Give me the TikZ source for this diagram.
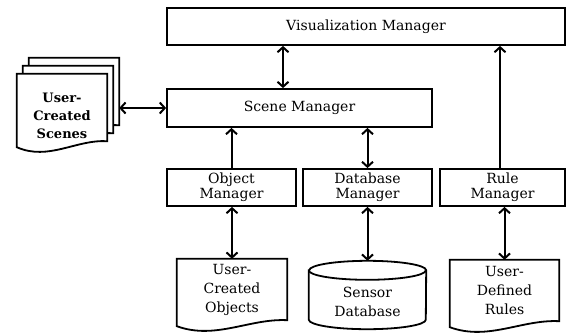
\documentclass[tikz,border=0pt]{standalone}
\usepackage{fontspec}
\setmainfont{DejaVu Serif}
\usetikzlibrary{calc}
\usetikzlibrary{arrows.meta}

% outline of a document page drawn round a node
\newcommand{\pageline}[2][]{%
	\draw[page,#1] (#2.north west) -- (#2.north east) -- (#2.south east)
		.. controls ($(#2.south west)!.66!(#2.south east)+(0,-2)$) and ($(#2.south west)!.35!(#2.south east)+(0,20)$)
		.. ([yshift=-6pt]#2.south west) -- cycle;}

\begin{document}
\begin{tikzpicture}[x=1pt, y=-1pt,
		mgr/.style = {rectangle, draw, line width=1.8pt, minimum height=37pt, align=center, inner sep=0pt, font=\fontsize{14}{15}\selectfont},
		docnode/.style = {rectangle, minimum width=110pt, minimum height=61pt, align=center, inner sep=0pt, font=\fontsize{14}{19}\selectfont},
		page/.style = {line width=1.8pt, fill=white},
		arr/.style = {-{Straight Barb[length=5pt,width=11pt]}, line width=2pt},
		darr/.style = {{Straight Barb[length=5pt,width=11pt]}-{Straight Barb[length=5pt,width=11pt]}, line width=2pt}
		]
		\useasboundingbox (0,0) rectangle (568,333);
		
		%Managers
		\node[mgr, minimum width=398pt]	(vis)	at	(366, 26.5)		{Visualization Manager};
		\node[mgr, minimum width=265pt, minimum height=38pt]	(scene)	at	(299.5, 108)	{Scene Manager};
		\node[mgr, minimum width=129pt]	(obj)	at	(231.5, 187.5)	{Object\\Manager};
		\node[mgr, minimum width=129pt]	(dbm)	at	(367.5, 187.5)	{Database\\Manager};
		\node[mgr, minimum width=125pt]	(rule)	at	(502.5, 187.5)	{Rule\\Manager};
		
		%Scene pages
		\node[docnode, minimum width=90pt, minimum height=67pt]	(scback)	at	(74, 91.5)	{};
		\node[docnode, minimum width=90pt, minimum height=67pt]	(scmid)		at	(68, 99.5)	{};
		\node[docnode, minimum width=90pt, minimum height=67pt]	(scfront)	at	(62, 107.5)	{};
		\pageline{scback}
		\pageline{scmid}
		\pageline{scfront}
		\node[align=center, font=\bfseries\fontsize{13}{18}\selectfont]	(sctext)	at	([yshift=-8pt]scfront.center)	{User-\\Created\\Scenes};
		
		%Stores
		\node[docnode]	(objdoc)	at	(232, 289.5)	{User-\\Created\\Objects};
		\pageline[fill=none]{objdoc}
		\node[docnode, minimum width=109pt]	(ruledoc)	at	(504.5, 290.5)	{User-\\Defined\\Rules};
		\pageline[fill=none]{ruledoc}
		\node[rectangle, minimum width=117pt, minimum height=68pt, inner sep=0pt]	(sensor)	at	(367.5, 295)	{};
		\draw[page] ([yshift=-9.5pt]sensor.north west) -- ([yshift=9.5pt]sensor.south west)
			arc[start angle=180, end angle=360, x radius=58.5pt, y radius=9.5pt]
			-- ([yshift=-9.5pt]sensor.north east)
			arc[start angle=0, end angle=180, x radius=58.5pt, y radius=9.5pt] -- cycle;
		\draw[page, fill=none] ([yshift=-9.5pt]sensor.north west) arc[start angle=180, end angle=360, x radius=58.5pt, y radius=9.5pt];
		\node[align=center, font=\fontsize{14}{19}\selectfont]	(sensortext)	at	([yshift=-6.5pt]sensor.center)	{Sensor\\Database};
		
		%Lines
		\draw[darr]	([xshift=-16.5pt]scene.north)	--	([xshift=-16.5pt]scene.north |- vis.south);
		\draw[arr]	(obj.north)	--	(obj.north |- scene.south);
		\draw[darr]	(dbm.north)	--	(dbm.north |- scene.south);
		\draw[arr]	([xshift=-2.5pt]rule.north)	--	([xshift=-2.5pt]rule.north |- vis.south);
		\draw[darr]	(scback.east |- scene.west)	--	(scene.west);
		\draw[darr]	(objdoc.north |- obj.south)	--	(objdoc.north);
		\draw[darr]	(dbm.south)	--	(sensor.north);
		\draw[darr]	(ruledoc.north |- rule.south)	--	(ruledoc.north);
	\end{tikzpicture}
\end{document}
